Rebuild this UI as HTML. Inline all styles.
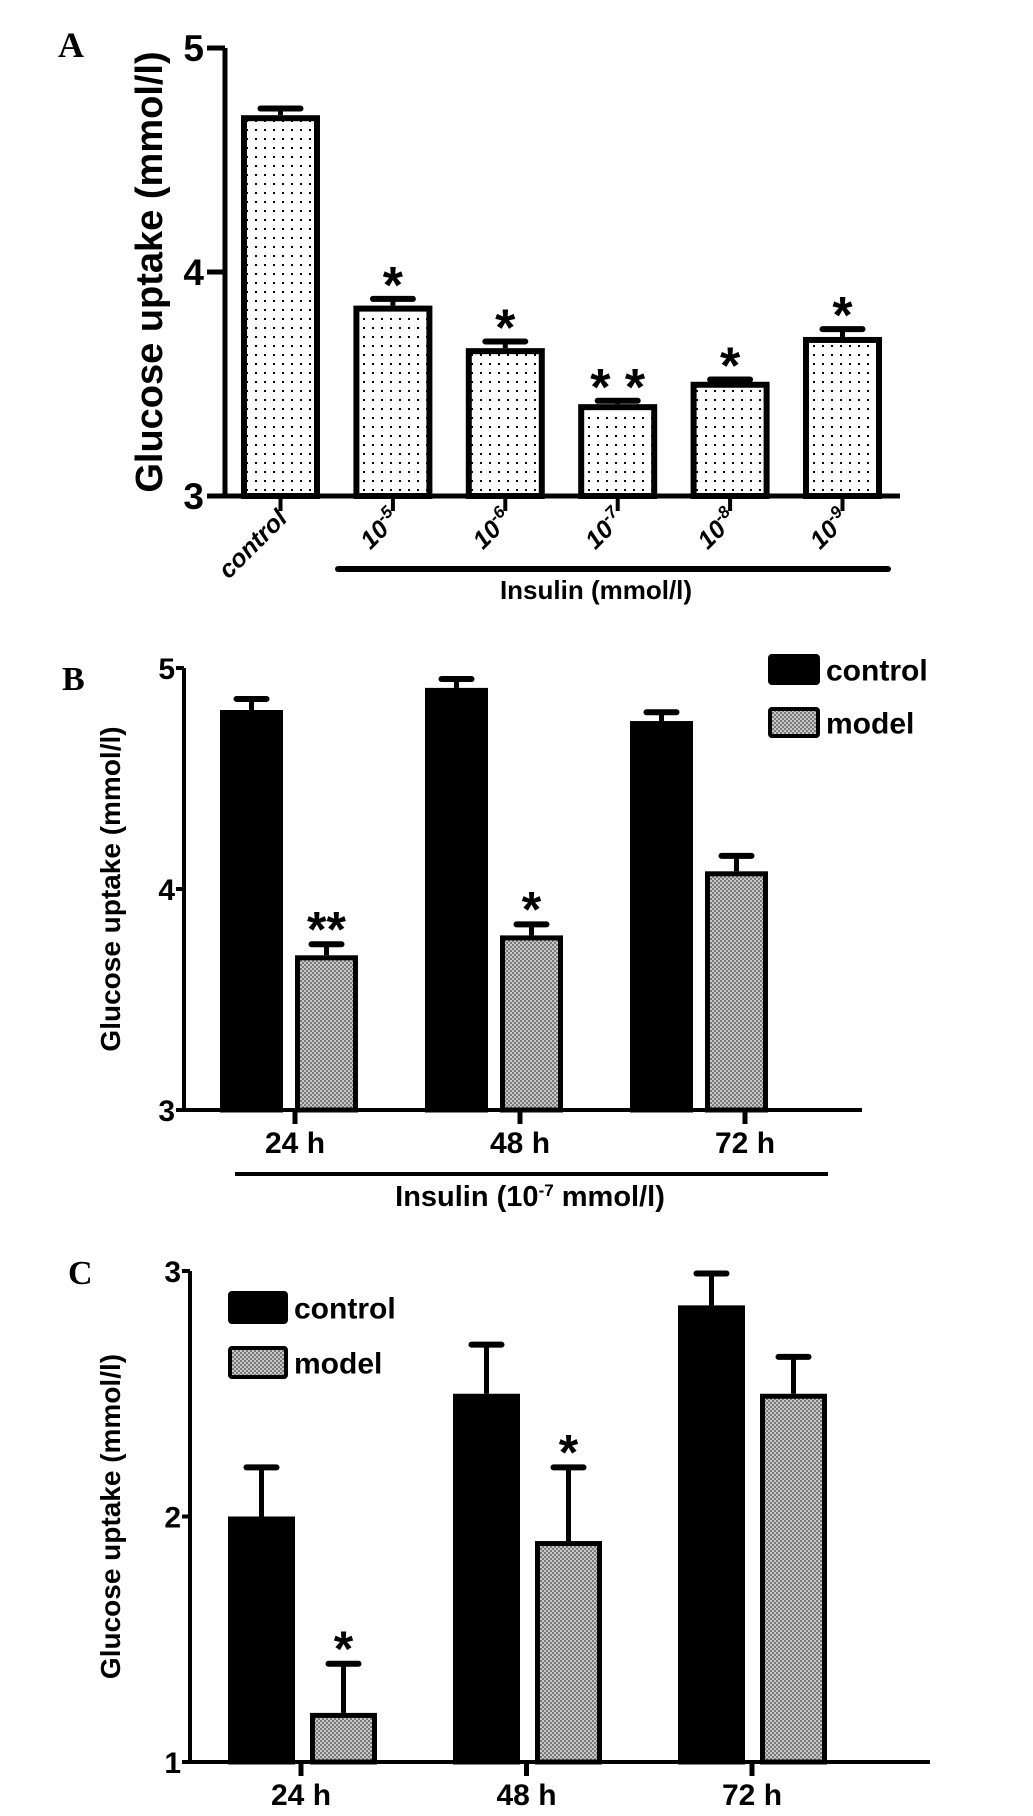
<!DOCTYPE html>
<html><head><meta charset="utf-8"><style>
html,body{margin:0;padding:0;background:#fff;}
svg{display:block;}
text{font-family:"Liberation Sans",Arial,sans-serif;font-weight:bold;fill:#000;}
.lbl{font-family:"Liberation Serif","Times New Roman",serif;font-weight:bold;}
</style></head><body>
<svg id="fig" width="1033" height="1816" viewBox="0 0 1033 1816" xmlns="http://www.w3.org/2000/svg">
<defs>
<pattern id="dots" width="9" height="9" patternUnits="userSpaceOnUse"><rect width="9" height="9" fill="#fff"/><rect x="3" y="3" width="2" height="2" fill="#000"/></pattern>
<pattern id="check" width="4" height="4" patternUnits="userSpaceOnUse"><rect width="4" height="4" fill="#c8c8c8"/><rect width="2" height="2" fill="#7a7a7a"/><rect x="2" y="2" width="2" height="2" fill="#7a7a7a"/></pattern>
</defs>
<g id="panelA"></g>
<g id="panelB"></g>
<g id="panelC"></g>
</svg>
<script>
// Panel A data
const aCategories = ["control","10-5","10-6","10-7","10-8","10-9"];
const aValues = [4.70,3.85,3.66,3.41,3.51,3.71];
const aErrors = [0.03,0.03,0.03,0.015,0.01,0.035];
const aStars = ["","*","*","* *","*","*"];
const aTicks = [3,4,5];
// Panel B data
const bCategories = ["24 h","48 h","72 h"];
const bControl = [4.81,4.91,4.76];
const bControlErr = [0.05,0.04,0.04];
const bModel = [3.70,3.79,4.08];
const bModelErr = [0.05,0.05,0.07];
const bStars = ["**","*",""];
const bTicks = [3,4,5];
// Panel C data
const cCategories = ["24 h","48 h","72 h"];
const cControl = [2.0,2.5,2.86];
const cControlErr = [0.2,0.2,0.13];
const cModel = [1.2,1.9,2.5];
const cModelErr = [0.2,0.3,0.15];
const cStars = ["*","*",""];
const cTicks = [1,2,3];

const NS="http://www.w3.org/2000/svg";
function mk(parent,tag,attrs,txt){const e=document.createElementNS(NS,tag);for(const k in attrs)e.setAttribute(k,attrs[k]);if(txt!==undefined)e.textContent=txt;parent.appendChild(e);return e;}

// ---------- Panel A ----------
(function(){
const g=document.getElementById('panelA');
const y0=496, y1=48, vmin=3, vmax=5;
const Y=v=>y0-(v-vmin)/(vmax-vmin)*(y0-y1);
const X=i=>241+i*112.4;
const bw=79;
let t=mk(g,'text',{x:58,y:57,'font-size':36,class:'lbl'},'A');

t=mk(g,'text',{transform:'translate(162,272) rotate(-90)','text-anchor':'middle','font-size':38},'Glucose uptake (mmol/l)');

let ax=mk(g,'path',{d:`M225 ${Y(5)} V${y0} H900`,stroke:'#000','stroke-width':5,fill:'none'});

aTicks.forEach(v=>{
 mk(g,'line',{x1:207,x2:225,y1:Y(v),y2:Y(v),stroke:'#000','stroke-width':5});
 const tl=mk(g,'text',{x:204,y:Y(v)+13,'text-anchor':'end','font-size':37},String(v));
 
});
aValues.forEach((v,i)=>{
 const x=X(i), cx=x+bw/2, top=Y(v), cap=Y(v+aErrors[i]);
 mk(g,'line',{x1:cx,x2:cx,y1:top,y2:cap,stroke:'#000','stroke-width':5});
 mk(g,'line',{x1:cx-20,x2:cx+20,y1:cap,y2:cap,stroke:'#000','stroke-width':6,'stroke-linecap':'round'});
 const r=mk(g,'rect',{x:x+3,y:top+3,width:bw-6,height:y0-top-3,fill:'url(#dots)',stroke:'#000','stroke-width':6});
 
 mk(g,'line',{x1:cx,x2:cx,y1:y0,y2:511,stroke:'#000','stroke-width':4});
 if(aStars[i]){const s=mk(g,'text',{x:cx,y:cap+4,'text-anchor':'middle','font-size':52},aStars[i]);
  }
 const lab=mk(g,'text',{transform:`translate(${cx+8},520) rotate(-45)`,'text-anchor':'end','font-size':25,'font-style':'italic'});
 
 if(i===0){lab.textContent='control';}
 else{mk(lab,'tspan',{},'10');mk(lab,'tspan',{dy:-10,'font-size':17},'-'+aCategories[i].split('-')[1]);}
});
let br=mk(g,'line',{x1:338,x2:888,y1:569,y2:569,stroke:'#000','stroke-width':6,'stroke-linecap':'round'});

t=mk(g,'text',{x:596,y:599,'text-anchor':'middle','font-size':26},'Insulin (mmol/l)');

})();

// ---------- grouped panels ----------
function grouped(id,o){
const g=document.getElementById(id);
const Y=v=>o.y0-(v-o.vmin)/(o.vmax-o.vmin)*(o.y0-o.y1);
let t=mk(g,'text',{x:o.lx,y:o.ly,'font-size':34,class:'lbl'},o.letter);

t=mk(g,'text',{transform:`translate(${o.tx},${(o.y0+o.y1)/2}) rotate(-90)`,'text-anchor':'middle','font-size':28},'Glucose uptake (mmol/l)');

let ax=mk(g,'path',{d:`M${o.ax} ${o.y1} V${o.y0} H${o.xend}`,stroke:'#000','stroke-width':4,fill:'none'});

o.ticks.forEach(v=>{
 mk(g,'line',{x1:o.ax-8,x2:o.ax,y1:Y(v),y2:Y(v),stroke:'#000','stroke-width':4});
 const tl=mk(g,'text',{x:o.ax-9,y:Y(v)+11,'text-anchor':'end','font-size':30},String(v));
 
});
function bar(x,v,e,fill,name){
 const top=Y(v),cap=Y(v+e),cx=x+o.bw/2;
 mk(g,'line',{x1:cx,x2:cx,y1:top,y2:cap,stroke:'#000','stroke-width':5});
 mk(g,'line',{x1:cx-15,x2:cx+15,y1:cap,y2:cap,stroke:'#000','stroke-width':6,'stroke-linecap':'round'});
 const r=mk(g,'rect',{x:x+2.5,y:top+2.5,width:o.bw-5,height:o.y0-top-2.5,fill:fill,stroke:'#000','stroke-width':5});
 
 return cap;
}
o.cats.forEach((c,i)=>{
 const xc=o.cx0+i*o.pitch, xm=xc+o.moff;
 bar(xc,o.control[i],o.cerr[i],'#000','bar-control-'+i);
 const cap=bar(xm,o.model[i],o.merr[i],'url(#check)','bar-model-'+i);
 if(o.stars[i]){const s=mk(g,'text',{x:xm+o.bw/2,y:cap+2,'text-anchor':'middle','font-size':50},o.stars[i]);
  }
 const tx=o.tick0+i*o.tpitch;
 mk(g,'line',{x1:tx,x2:tx,y1:o.y0,y2:o.y0+14,stroke:'#000','stroke-width':5});
 const tl=mk(g,'text',{x:tx,y:o.y0+43,'text-anchor':'middle','font-size':30},c);
 
});
[['control','#000',o.leg0],['model','url(#check)',o.leg0+o.legGap]].forEach(([n,f,y])=>{
 const sw=mk(g,'rect',{x:o.legx+2,y:y+2,width:o.legw-4,height:o.legh-4,fill:f,stroke:'#000','stroke-width':4,rx:2});
 
 const lt=mk(g,'text',{x:o.legx+o.legw+6,y:y+o.legh/2+11,'font-size':30},n);
 
});
return g;
}
const gB=grouped('panelB',{letter:'B',lx:62,ly:690,tx:120,ax:184,y0:1110,y1:668,vmin:3,vmax:5,xend:862,
 ticks:bTicks,cats:bCategories,control:bControl,cerr:bControlErr,model:bModel,merr:bModelErr,stars:bStars,
 cx0:220,pitch:205,moff:75,bw:63,tick0:295,tpitch:225,legx:768,legw:52,legh:31,leg0:654,legGap:53});
let l=mk(gB,'line',{x1:235,x2:828,y1:1174,y2:1174,stroke:'#000','stroke-width':4});

let tt=mk(gB,'text',{x:530,y:1206,'text-anchor':'middle','font-size':29});

mk(tt,'tspan',{},'Insulin (10');mk(tt,'tspan',{dy:-10,'font-size':17},'-7');mk(tt,'tspan',{dy:10},' mmol/l)');

grouped('panelC',{letter:'C',lx:68,ly:1284,tx:120,ax:190,y0:1762,y1:1271,vmin:1,vmax:3,xend:930,
 ticks:cTicks,cats:cCategories,control:cControl,cerr:cControlErr,model:cModel,merr:cModelErr,stars:cStars,
 cx0:228,pitch:225,moff:82,bw:67,tick0:301,tpitch:225.5,legx:228,legw:60,legh:33,leg0:1291,legGap:55});
</script>
</body></html>
